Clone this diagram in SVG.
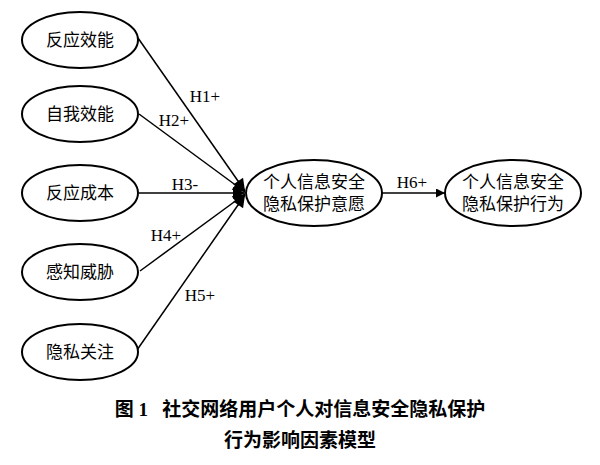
<svg xmlns="http://www.w3.org/2000/svg" width="600" height="465" viewBox="0 0 600 465">
<defs><marker id="a" viewBox="0 0 10 10" refX="10" refY="5" markerWidth="9" markerHeight="9" markerUnits="userSpaceOnUse" orient="auto"><path d="M0,0L10,5L0,10z" fill="#000"/></marker>
<marker id="b" viewBox="0 0 10 10" refX="10" refY="5" markerWidth="14" markerHeight="12" markerUnits="userSpaceOnUse" orient="auto"><path d="M0,0L10,5L0,10z" fill="#000"/></marker></defs>
<style>ellipse{fill:#fff;stroke:#000;stroke-width:2}text{font-family:"Liberation Serif","Noto Sans CJK SC",serif;font-size:17px;text-anchor:middle}.l{font-size:17px}line{stroke:#000;stroke-width:1.5}.c{font-weight:bold;font-size:19px}</style>
<rect width="600" height="465" fill="#fff"/>
<g id="connectors">
<line x1="138" y1="38" x2="245" y2="191" marker-end="url(#b)"/>
<line x1="139" y1="114" x2="245" y2="192" marker-end="url(#b)"/>
<line x1="139" y1="193" x2="245" y2="193" marker-end="url(#b)"/>
<line x1="140" y1="271" x2="245" y2="194" marker-end="url(#b)"/>
<line x1="137" y1="350" x2="245" y2="195" marker-end="url(#b)"/>
<line x1="382" y1="193" x2="445" y2="193" marker-end="url(#a)"/>
<text class="l" x="205" y="102">H1+</text><text class="l" x="174" y="126">H2+</text>
<text class="l" x="185" y="190">H3-</text><text class="l" x="166" y="241">H4+</text>
<text class="l" x="200" y="301">H5+</text><text class="l" x="412" y="188">H6+</text>
</g>
<g id="n1"><ellipse cx="80" cy="40" rx="58" ry="28"/><text x="80" y="46">反应效能</text></g>
<g id="n2"><ellipse cx="80" cy="114" rx="58" ry="28"/><text x="80" y="120">自我效能</text></g>
<g id="n3"><ellipse cx="80" cy="193" rx="58" ry="28"/><text x="80" y="199">反应成本</text></g>
<g id="n4"><ellipse cx="80" cy="272" rx="58" ry="28"/><text x="80" y="278">感知威胁</text></g>
<g id="n5"><ellipse cx="80" cy="352" rx="58" ry="28"/><text x="80" y="358">隐私关注</text></g>
<g id="m"><ellipse cx="314" cy="193" rx="68" ry="33"/><text x="314" y="188">个人信息安全</text><text x="314" y="210">隐私保护意愿</text></g>
<g id="r"><ellipse cx="513" cy="193" rx="68" ry="33"/><text x="513" y="188">个人信息安全</text><text x="513" y="210">隐私保护行为</text></g>
<text class="c" x="300" y="416" xml:space="preserve">图 1   社交网络用户个人对信息安全隐私保护</text>
<text class="c" x="300" y="447">行为影响因素模型</text>
</svg>
